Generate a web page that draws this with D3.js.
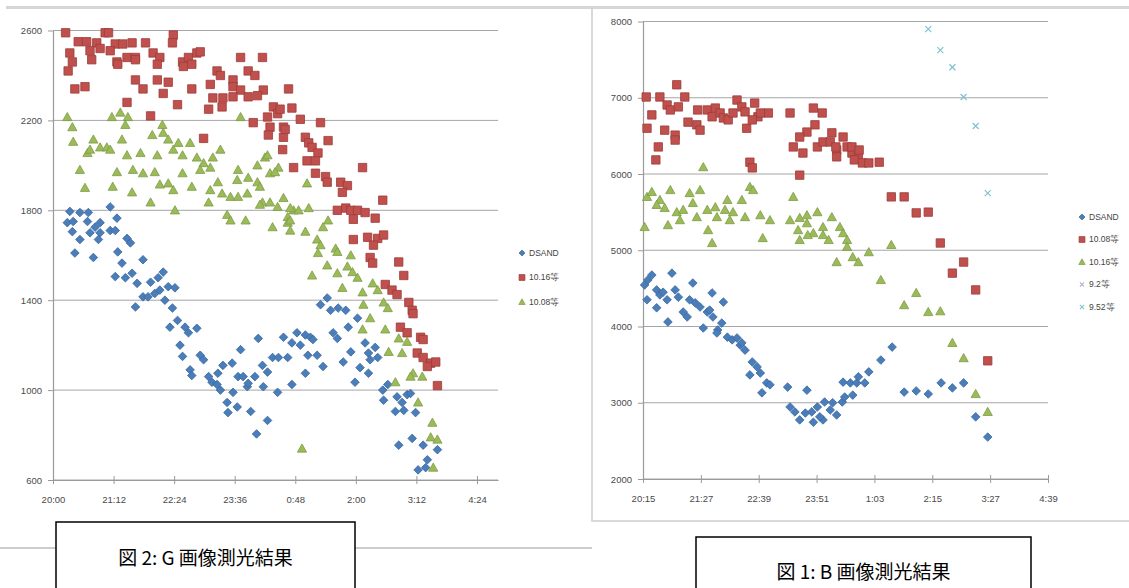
<!DOCTYPE html>
<html><head><meta charset="utf-8">
<script src="https://cdn.jsdelivr.net/npm/d3@7"></script>
<style>body{margin:0;background:#fff;} svg{display:block;}</style>
</head><body>
<svg id="c" width="1129" height="588"></svg>
<script>
// ===== Figure 2 (G image) : minutes after 20:00, value =====
const startG = "20:00";
const xLabelsG = ["20:00","21:12","22:24","23:36","0:48","2:00","3:12","4:24"];
const yTicksG = [600,1000,1400,1800,2200,2600];
const seriesNamesG = ["DSAND","10.16等","10.08等"];
const dsandG = [
[20,1795],[32,1790],[42,1790],[68,1815],[76,1765],[17,1745],[24,1750],[41,1750],[50,1725],[56,1745],[68,1710],[44,1700],[32,1670],[54,1670],[88,1675],
[23,1705],[56,1700],[74,1710],[92,1655],[26,1610],[48,1590],[77,1615],[82,1565],[107,1580],[74,1505],[86,1500],[94,1520],[100,1475],[116,1480],[125,1500],[131,1525],[137,1460],[145,1455],[98,1370],[107,1415],[113,1415],[121,1430],[127,1445],[133,1400],[142,1365],[148,1310],[139,1280],[157,1280],[161,1255],[171,1275],[151,1200],[154,1150],[175,1155],[179,1135],[163,1090],[165,1065],[185,1060],[189,1035],[196,1075],[202,1110],[213,1120],[195,1025],[199,1000],[214,990],[220,1060],[226,1060],[223,1180],[244,1230],[207,945],[219,925],[208,900],[235,905],[231,1015],[232,1030],[240,1060],[249,1110],[255,1080],[250,1015],[261,1145],[268,1145],[279,1145],[274,1235],[284,1210],[290,1255],[267,990],[284,1025],[255,865],[242,805],
[294,1200],[300,1245],[306,1235],[309,1225],[303,1155],[314,1155],[300,1075],[321,1105],[318,1380],[326,1410],[330,1355],[339,1365],[348,1355],[333,1255],[338,1230],[351,1280],[362,1320],[354,1170],[345,1125],[365,1100],[375,1075],[371,1210],[383,1190],[375,1165],[386,1145],[377,1135],[359,1035],[392,1000],[398,1025],[393,955],[409,970],[415,945],[421,980],[425,985],[407,905],[417,910],[431,900],[411,755],[427,785],[440,755],[457,735],[445,690],[434,645],[443,655]
];
const red16G = [
[15,2590],[62,2590],[66,2590],[30,2550],[40,2550],[52,2545],[74,2540],[83,2540],[94,2545],[110,2545],[143,2580],[142,2545],
[20,2500],[44,2510],[56,2520],[68,2510],[76,2460],[88,2480],[98,2480],[119,2500],[127,2480],[154,2460],[161,2480],[171,2500],[175,2505],[223,2480],[249,2480],
[23,2460],[46,2470],[77,2450],[98,2470],[124,2450],[155,2440],[165,2450],
[18,2420],[195,2420],[232,2420],[199,2400],[240,2400],[214,2380],
[26,2340],[38,2350],[98,2380],[107,2340],[124,2380],[137,2370],[131,2320],[165,2340],[187,2360],[214,2350],[223,2335],[250,2335],[280,2340],
[190,2300],[202,2300],[214,2305],[232,2305],[243,2310],
[88,2280],[148,2270],[201,2260],[185,2250],[262,2260],[284,2255],
[116,2220],[255,2215],[267,2230],[238,2190],[258,2170],[274,2170],[256,2135],[274,2125],[179,2120],[273,2070],[286,1990],
[270,2250],[294,2205],[318,2190],[276,2160],[300,2125],[304,2100],[327,2110],[308,2080],[315,2055],[302,2020],[312,2020],[368,1990],[312,1965],[324,1950],[326,1925],[342,1925],[350,1910],[344,1880],[392,1845],
[338,1800],[348,1810],[354,1800],[362,1800],[371,1790],[357,1760],[383,1765],[357,1670],[374,1680],[386,1675],[393,1690],[381,1645],
[377,1590],[380,1565],[411,1570],[417,1510],[395,1470],[403,1445],[409,1425],[423,1390],[427,1355],[428,1340],[413,1280],[421,1255],[437,1235],[440,1225],[433,1165],[440,1145],[449,1120],[455,1125],[445,1105],[457,1020]
];
const green08G = [
[17,2215],[23,2170],[70,2215],[80,2235],[89,2215],[86,2180],[130,2180],[223,2215],
[24,2105],[48,2115],[82,2115],[118,2135],[131,2145],[137,2115],[149,2100],[163,2100],
[41,2055],[44,2070],[56,2080],[64,2080],[68,2070],[88,2045],[104,2055],[124,2045],[143,2070],[154,2045],[171,2035],[179,2010],[190,2035],[199,2070],[252,2035],[243,2000],
[32,1980],[76,1970],[95,1980],[107,1965],[121,1970],[154,1965],[175,1980],[187,1990],[220,1980],[232,1945],[243,1925],[258,1965],[268,1990],
[38,1900],[71,1905],[94,1880],[127,1915],[137,1920],[143,1890],[165,1905],[187,1890],[196,1925],[201,1875],[219,1935],[231,1875],[246,1905],[274,1855],
[116,1835],[145,1800],[185,1835],[211,1860],[220,1860],[249,1835],[258,1835],
[207,1780],[211,1755],[229,1755],[261,1725],[279,1770],[286,1800],[279,1745],
[255,2045],[264,1970],[302,1920],[246,1825],[267,1815],[282,1810],[292,1800],[304,1810],[282,1755],[300,1705],[282,1710],[327,1755],[321,1725],[314,1670],[336,1630],
[318,1645],[315,1610],[338,1615],[354,1600],[326,1555],[308,1510],[338,1520],[350,1550],[356,1525],[362,1500],[344,1455],[368,1435],[380,1475],[386,1445],[369,1380],[393,1390],[398,1365],[377,1320],[368,1270],[395,1270],[411,1230],[421,1215],[399,1170],[415,1165],[428,1075],[439,1060],[425,1060],[407,1035],[434,945],[451,855],[449,790],[457,780],[452,655],[296,740]
];

// ===== Figure 1 (B image) : minutes after 20:15, value =====
const startB = "20:15";
const xLabelsB = ["20:15","21:27","22:39","23:51","1:03","2:15","3:27","4:39"];
const yTicksB = [2000,3000,4000,5000,6000,7000,8000];
const seriesNamesB = ["DSAND","10.08等","10.16等","9.2等","9.52等"];
const dsandB = [
[2,4545],[6,4610],[11,4675],[5,4350],[17,4480],[21,4415],[25,4450],[17,4245],[30,4350],[36,4700],[40,4480],[44,4385],[31,4060],[50,4190],[55,4125],[62,4570],[58,4350],[65,4310],[71,4255],[75,3980],[80,4190],[86,4440],[87,4125],[83,4215],[93,3955],[98,4045],[100,4320],[92,3915],[105,3860],[111,3825],[117,3850],[121,3755],[123,3785],[127,3690],[136,3535],[142,3470],[133,3365],[146,3390],[154,3260],[148,3130],[158,3235],
[180,3205],[183,2945],[189,2880],[195,2775],[204,3165],[202,2865],[210,2880],[212,2745],[217,2945],[224,2775],[220,2815],[226,3010],[233,2905],[236,3000],[241,2840],[248,3010],[251,3075],[249,3270],[258,3260],[261,3100],[266,3260],[268,3340],
[276,3260],[281,3405],[296,3560],[310,3730],[325,3140],[340,3155],[355,3115],[371,3260],[385,3195],[399,3260],[414,2815],[429,2550]
];
const red08B = [
[4,7010],[21,7010],[42,7170],[52,7010],[11,6775],[5,6600],[30,6905],[34,6840],[44,6880],[27,6575],[40,6510],[40,6445],[56,6680],[67,6645],[71,6575],[68,6840],[80,6840],[90,6865],[86,6750],[96,6800],[100,6735],[106,6710],[112,6800],[117,6970],[123,6880],[127,6815],[129,6600],[139,6930],[143,6750],[156,6800],[146,6800],[136,6710],[19,6355],[16,6185],[133,6155],[136,6080],
[183,6800],[212,6865],[223,6800],[214,6645],[204,6550],[195,6485],[187,6355],[199,6275],[195,5985],[217,6355],[224,6420],[233,6420],[241,6315],[249,6485],[254,6355],[241,6225],[260,6275],[268,6225],[235,6540],[240,6355],[260,6355],[269,6315],[263,6185],[273,6145],[281,6145],[294,6155],
[309,5700],[325,5700],[340,5490],[355,5500],[370,5095],[385,4700],[399,4845],[414,4480],[429,3550]
];
const green16B = [
[75,6090],[2,5305],[5,5700],[11,5765],[21,5660],[17,5595],[27,5555],[34,5790],[42,5500],[50,5530],[46,5395],[31,5330],[58,5750],[62,5620],[71,5790],[67,5435],[80,5530],[90,5565],[92,5435],[105,5660],[102,5530],[112,5500],[108,5395],[123,5660],[133,5830],[137,5790],[127,5435],[146,5460],[158,5395],[81,5265],[86,5095],[149,5160],
[187,5700],[183,5395],[195,5425],[204,5460],[217,5500],[204,5355],[193,5265],[212,5225],[224,5305],[224,5200],[235,5435],[245,5305],[249,5225],[254,5135],[195,5135],[205,5200],[254,5045],[241,4845],[261,4910],[268,4845],[231,5135],
[281,4975],[309,5070],[296,4610],[325,4280],[340,4440],[355,4190],[370,4200],[385,3785],[399,3585],[414,3115],[429,2880]
];
const cross92B = [];
const cross952B = [[355,7900],[370,7625],[385,7400],[399,7010],[414,6630],[429,5750]];

const captionG = "図 2: G 画像測光結果";
const captionB = "図 1: B 画像測光結果";

// ===== styles =====
const shapes = {
  diamond: "M0,-4.3L4.3,0L0,4.3L-4.3,0Z",
  square: "M-4.2,-4.2H4.2V4.2H-4.2Z",
  triangle: "M0,-4.6L4.6,3.6H-4.6Z",
  cross: "M-3,-3L3,3M-3,3L3,-3"
};
const st = {
  blue: {shape:"diamond", fill:"#4a7ebb", stroke:"#3b679c"},
  red: {shape:"square", fill:"#c0504d", stroke:"#9d3c39"},
  green: {shape:"triangle", fill:"#9bbb59", stroke:"#7f9c45"},
  lav: {shape:"cross", fill:"none", stroke:"#b7a9d0"},
  teal: {shape:"cross", fill:"none", stroke:"#7fc3cf"}
};

const svg = d3.select("#c");
const font = "'Liberation Sans', Arial, sans-serif";

// frame decorations
svg.append("rect").attr("x",6).attr("y",6).attr("width",1123).attr("height",3).attr("fill","#d6d6d6");
svg.append("path").attr("d","M592,8V521H1129").attr("fill","none").attr("stroke","#cdcdcd").attr("stroke-width",1.5);
svg.append("line").attr("x1",0).attr("x2",592).attr("y1",548).attr("y2",548).attr("stroke","#cdcdcd").attr("stroke-width",2);

function panel(cfg){
  const x = d3.scaleLinear().domain(cfg.xDomain).range(cfg.xRange);
  const y = d3.scaleLinear().domain(cfg.yDomain).range(cfg.yRange);
  const g = svg.append("g");
  // grid
  g.append("g").selectAll("line").data(cfg.yTicks).join("line")
    .attr("x1",x.range()[0]).attr("x2",x.range()[1])
    .attr("y1",d=>y(d)).attr("y2",d=>y(d))
    .attr("stroke","#a6a6a6").attr("stroke-width",1);
  // y axis
  const ya = g.append("g").attr("transform",`translate(${x.range()[0]},0)`)
    .call(d3.axisLeft(y).tickValues(cfg.yTicks).tickFormat(d3.format("d")).tickSize(5).tickPadding(6).tickSizeOuter(0));
  // x axis
  const xt = cfg.xLabels.map((d,i)=>i*72);
  const xa = g.append("g").attr("transform",`translate(0,${y.range()[0]})`)
    .call(d3.axisBottom(x).tickValues(xt).tickFormat((d,i)=>cfg.xLabels[i]).tickSize(4).tickPadding(12).tickSizeOuter(0));
  xa.selectAll(".tick line").attr("y1",-4).attr("y2",4);
  [ya,xa].forEach(a=>{
    a.select(".domain").attr("stroke","#9a9a9a").attr("stroke-width",1.2);
    a.selectAll(".tick line").attr("stroke","#9a9a9a");
    a.selectAll("text").attr("fill","#4a4a4a").style("font-family",font).style("font-size","9.5px");
  });
  // series
  cfg.series.forEach(s=>{
    const sty = st[s.style];
    g.append("g").selectAll("path").data(s.data).join("path")
      .attr("d",shapes[sty.shape])
      .attr("transform",d=>`translate(${x(d[0])},${y(d[1])})`)
      .attr("fill",sty.fill).attr("stroke",sty.stroke).attr("stroke-width",sty.shape==="cross"?1.2:0.8);
  });
  // legend
  const lg = g.append("g");
  cfg.series.forEach((s,i)=>{
    const sty = st[s.style];
    const yy = cfg.legY[0] + i*cfg.legY[1];
    lg.append("path").attr("d",shapes[sty.shape])
      .attr("transform",`translate(${cfg.legX},${yy}) scale(0.7)`)
      .attr("fill",sty.fill).attr("stroke",sty.stroke).attr("stroke-width",sty.shape==="cross"?1.5:1);
    lg.append("text").attr("x",cfg.legX+7).attr("y",yy).attr("dy","0.35em")
      .style("font-family",font).style("font-size","8.5px").attr("fill","#444").text(s.name);
  });
}

panel({
  xDomain:[0,529], xRange:[53,498], yDomain:[600,2600], yRange:[480,30.5],
  yTicks:yTicksG, xLabels:xLabelsG, legX:522, legY:[253,24.5],
  series:[
    {name:seriesNamesG[0], data:dsandG, style:"blue"},
    {name:seriesNamesG[1], data:red16G, style:"red"},
    {name:seriesNamesG[2], data:green08G, style:"green"}
  ]
});
panel({
  xDomain:[0,504], xRange:[643,1048], yDomain:[2000,8000], yRange:[479,21.5],
  yTicks:yTicksB, xLabels:xLabelsB, legX:1082, legY:[217,22.5],
  series:[
    {name:seriesNamesB[0], data:dsandB, style:"blue"},
    {name:seriesNamesB[1], data:red08B, style:"red"},
    {name:seriesNamesB[2], data:green16B, style:"green"},
    {name:seriesNamesB[3], data:cross92B, style:"lav"},
    {name:seriesNamesB[4], data:cross952B, style:"teal"}
  ]
});

// captions
function caption(x0,y0,w,h,text,cy){
  svg.append("rect").attr("x",x0).attr("y",y0).attr("width",w).attr("height",h)
    .attr("fill","#fff").attr("stroke","#000").attr("stroke-width",1.5);
  svg.append("text").attr("x",x0+w/2).attr("y",cy).attr("text-anchor","middle").attr("dy","0.35em")
    .style("font-family","'Noto Sans CJK JP', sans-serif").style("font-size","19px").attr("fill","#000")
    .text(text);
}
caption(56,522,299,80,captionG,558);
caption(696,537,335,70,captionB,572);
</script>
</body></html>
